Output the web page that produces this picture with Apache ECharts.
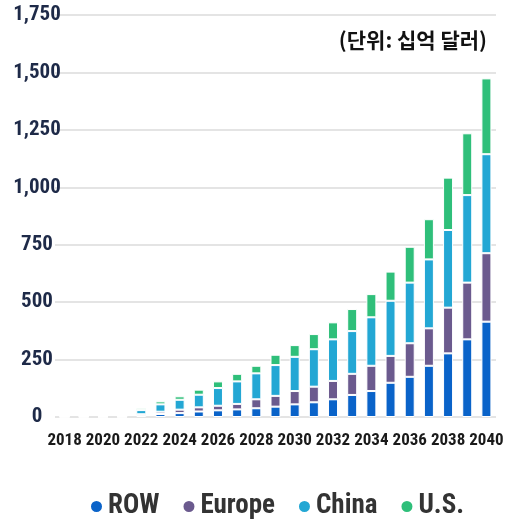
<!DOCTYPE html>
<html>
<head>
    <meta charset="utf-8">
    <script src="https://cdn.jsdelivr.net/npm/echarts@6/dist/echarts.min.js"></script>
    <style>
        html, body { margin: 0; padding: 0; background: #fff; }
        #main { width: 511px; height: 524px; }
    </style>
</head>
<body>
    <div id="main"></div>
    <script>
        // years on the x axis
        var years = ['2018', '2019', '2020', '2021', '2022', '2023', '2024', '2025', '2026', '2027', '2028',
            '2029', '2030', '2031', '2032', '2033', '2034', '2035', '2036', '2037', '2038', '2039', '2040'];

        // stacked values, billions of dollars
        var row    = [0.4, 0.4, 0.4, 0.4, 6, 13, 17, 24, 29, 33, 38, 45, 55, 64, 77, 96, 113, 149, 175, 223, 277, 338, 415];
        var europe = [0.4, 0.4, 0.4, 0.4, 6, 10, 15, 18, 20, 24, 39, 47, 58, 68, 80, 92, 110, 117, 146, 163, 199, 247, 298];
        var china  = [0.4, 0.4, 0.4, 0.4, 18, 32, 43, 55, 77, 98, 113, 134, 149, 163, 181, 186, 211, 240, 264, 300, 338, 381, 431];
        var us     = [0.4, 0.4, 0.4, 0.4, 8, 13, 15, 22, 29, 33, 33, 45, 51, 66, 74, 96, 101, 127, 156, 175, 228, 269, 330];

        var yTicks = [0, 250, 500, 750, 1000, 1250, 1500, 1750];

        var font = '"Liberation Sans Narrow", "Arial Narrow", "Roboto Condensed", "Liberation Sans", sans-serif';

        var chart = echarts.init(document.getElementById('main'));

        function stack(name, data, color) {
            return {
                name: name,
                type: 'bar',
                stack: 'total',
                data: data,
                barWidth: 10,
                itemStyle: { color: color, borderColor: '#fff', borderWidth: 1 }
            };
        }

        chart.setOption({
            animation: false,
            grid: { left: 55, right: 15, top: 15, bottom: 107 },
            legend: {
                left: 84,
                top: 488,
                icon: 'circle',
                itemWidth: 13,
                itemHeight: 13,
                itemGap: 22,
                textStyle: { fontFamily: font, fontSize: 27, color: '#333', fontWeight: 'bold' },
                data: ['ROW', 'Europe', 'China', 'U.S.']
            },
            xAxis: {
                type: 'category',
                data: years,
                axisLine: { show: false },
                axisTick: { show: false },
                axisLabel: {
                    interval: 1,
                    margin: 15,
                    fontFamily: font,
                    fontSize: 17,
                    fontWeight: 'bold',
                    color: '#1a1a1a'
                }
            },
            yAxis: {
                type: 'value',
                min: yTicks[0],
                max: yTicks[yTicks.length - 1],
                interval: 250,
                axisLine: { show: false },
                axisTick: { show: false },
                splitLine: { lineStyle: { color: '#e4e4e4', width: 2 } },
                axisLabel: {
                    margin: 18,
                    align: 'center',
                    fontFamily: font,
                    fontSize: 21,
                    fontWeight: 'bold',
                    color: '#1e2a48',
                    formatter: function (v) { return v.toLocaleString('en-US'); }
                }
            },
            graphic: [{
                type: 'text',
                right: 24,
                top: 30,
                style: {
                    text: '(단위: 십억 달러)',
                    font: 'bold 21px "Noto Sans CJK KR", sans-serif',
                    fill: '#111'
                }
            }],
            series: [
                stack('ROW', row, '#0a63c9'),
                stack('Europe', europe, '#6b5a8e'),
                stack('China', china, '#23a7d4'),
                stack('U.S.', us, '#2fbf7a')
            ]
        });
    </script>
</body>
</html>
